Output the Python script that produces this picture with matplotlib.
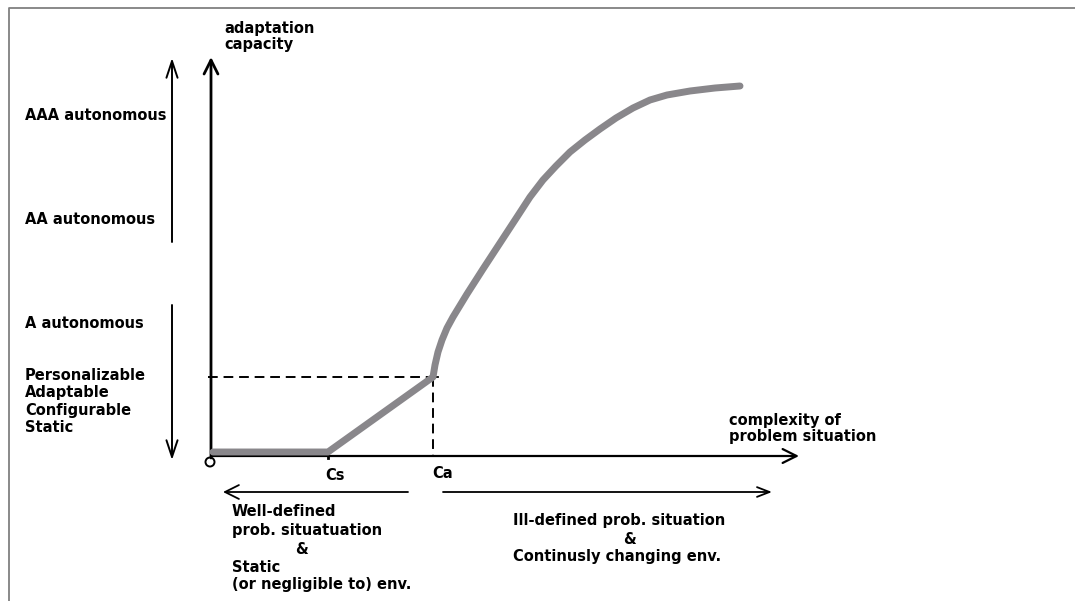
import matplotlib.pyplot as plt
from matplotlib.patches import Circle

# coordinates: x = complexity, y = adaptation capacity (origin at axis corner)
curve_x = [2, 117, 222, 224, 227, 231, 236, 242, 256, 272, 289, 306, 319, 332,
           345, 359, 374, 389, 405, 422, 439, 456, 479, 504, 529]
curve_y = [4, 4, 79, 91, 104, 116, 128, 139, 162, 187, 213, 239, 259, 276,
           290, 304, 316, 327, 338, 348, 356, 361, 365, 368, 370]

cs_x = 117
ca_x = 222
ca_level = 79

x_axis_end = 588
y_axis_end = 399

level_labels = ["AAA autonomous", "AA autonomous", "A autonomous",
                "Personalizable", "Adaptable", "Configurable", "Static"]
level_y = [340, 236, 133, 80, 63, 46, 29]

font = dict(family="DejaVu Sans", fontweight="bold", fontsize=10.5, color="black")

fig = plt.figure(figsize=(10.75, 6.01), dpi=100)
ax = fig.add_axes([0, 0, 1, 1])
ax.set_xlim(-211, 864)
ax.set_ylim(-145, 456)
ax.axis("off")

# frame lines (top and left)
ax.plot([-202, -202, 864], [-145, 448, 448], color="#808080", lw=1.3)


def arrow(x0, y0, x1, y1, lw=1.4, hl=0.9, hw=0.45):
    ax.annotate("", xy=(x1, y1), xytext=(x0, y0),
                arrowprops=dict(arrowstyle="->,head_length=%s,head_width=%s" % (hl, hw),
                                lw=lw, color="black", shrinkA=0, shrinkB=0))


# axes
arrow(0, -2, 0, y_axis_end, lw=2.0, hl=1.0, hw=0.5)
arrow(0, 0, x_axis_end, 0, lw=1.6, hl=1.0, hw=0.5)
ax.add_patch(Circle((-1, -6), 4.5, fill=False, ec="black", lw=1.4, zorder=5))

# capacity range arrows on the left
arrow(-39, 214, -39, 398, lw=1.4, hl=1.2, hw=0.4)
arrow(-39, 151, -39, -4, lw=1.4, hl=1.2, hw=0.4)

# bottom range arrows
arrow(197, -36, 12, -36, lw=1.3, hl=1.0, hw=0.5)
arrow(232, -36, 561, -36, lw=1.3, hl=0.9, hw=0.35)

# dashed guides to Ca
ax.plot([-3, ca_x], [ca_level, ca_level], color="black", lw=1.4, ls=(0, (5, 3)))
ax.plot([ca_x, ca_x], [ca_level, 0], color="black", lw=1.4, ls=(0, (5, 3)))
ax.plot([ca_x - 5, ca_x + 5], [ca_level, ca_level], color="black", lw=1.3)
ax.plot([cs_x, cs_x], [-2, 2], color="black", lw=2)

# adaptation curve
ax.plot(curve_x, curve_y, color="#89878b", lw=5, solid_capstyle="round",
        solid_joinstyle="round", zorder=4)

# texts
ax.text(13, 427, "adaptation", va="center", **font)
ax.text(13, 411, "capacity", va="center", **font)
ax.text(518, 36, "complexity of", va="center", **font)
ax.text(518, 19, "problem situation", va="center", **font)
ax.text(cs_x - 3, -19, "Cs", va="center", **font)
ax.text(ca_x - 1, -18, "Ca", va="center", **font)

for lab, y in zip(level_labels, level_y):
    ax.text(-186, y, lab, va="center", **font)

ax.text(21, -56, "Well-defined", va="center", **font)
ax.text(21, -74, "prob. situatuation", va="center", **font)
ax.text(91, -93, "&", va="center", ha="center", **font)
ax.text(21, -111, "Static", va="center", **font)
ax.text(21, -129, "(or negligible to) env.", va="center", **font)

ax.text(302, -64, "Ill-defined prob. situation", va="center", **font)
ax.text(418, -83, "&", va="center", ha="center", **font)
ax.text(302, -101, "Continusly changing env.", va="center", **font)

fig.savefig("out.png", dpi=100)
